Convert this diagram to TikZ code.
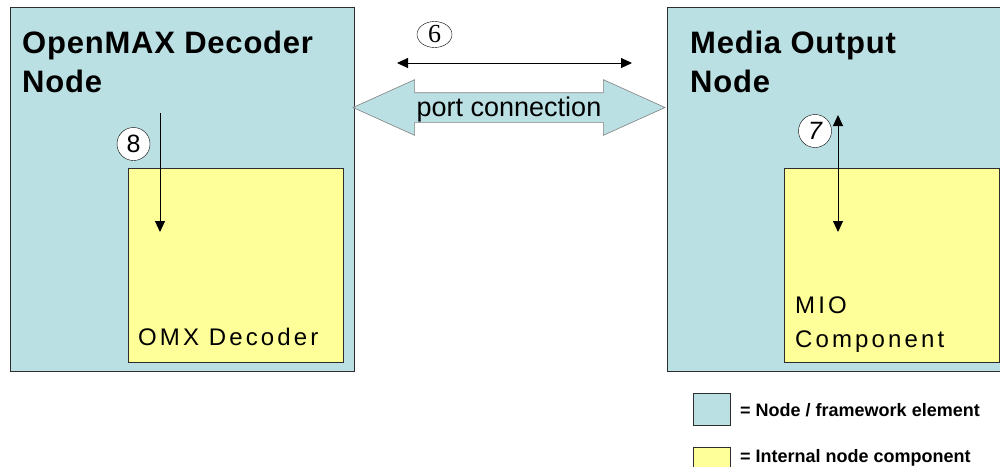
\documentclass[tikz,border=0pt]{standalone}
\usepackage{fontspec}
\setmainfont{Liberation Sans}
\newfontfamily\numfont{Liberation Serif}
\usetikzlibrary{arrows.meta,positioning,shapes.arrows,shapes.geometric}
\definecolor{nodeblue}{RGB}{187,224,227}
\definecolor{compyellow}{RGB}{255,255,153}
\definecolor{edgegray}{RGB}{45,45,45}

\begin{document}
\begin{tikzpicture}[
  x=1pt, y=-1pt,
  nodebox/.style={rectangle, draw=edgegray, line width=1pt, fill=nodeblue, inner sep=0pt},
  compbox/.style={rectangle, draw=edgegray, line width=1pt, fill=compyellow, inner sep=0pt},
  title/.style={anchor=base west, inner sep=0pt, align=left, font=\fontsize{31}{39}\selectfont\bfseries\addfontfeature{LetterSpace=2.5}},
  label/.style={anchor=base west, inner sep=0pt, align=left, font=\fontsize{24}{34}\selectfont\addfontfeature{LetterSpace=13}},
  num/.style={circle, draw, fill=white, minimum size=33pt, inner sep=0pt, font=\fontsize{25}{25}\selectfont},
  arrow/.style={-{Triangle[length=11pt,width=10pt]}, line width=1pt},
  darrow/.style={{Triangle[length=11pt,width=10pt]}-{Triangle[length=11pt,width=10pt]}, line width=1pt},
  legend/.style={anchor=base west, inner sep=0pt, font=\fontsize{18}{18}\selectfont\bfseries},
]
  \clip (0,0) rectangle (1000,466);

  % framework nodes
  \node[nodebox, minimum width=344pt, minimum height=364pt] (dec) at (182,189) {};
  \node[nodebox, minimum width=344pt, minimum height=364pt] (out) at (839,189) {};
  \node[compbox, minimum width=215pt, minimum height=194pt] (omx) at (235.5,265) {};
  \node[compbox, minimum width=215pt, minimum height=194pt] (mio) at (891.5,265) {};

  \node[title] (dectitle) at (22,92) {OpenMAX Decoder\\Node};
  \node[title] (outtitle) at (690,92) {Media Output\\Node};
  \node[label] (omxlabel) at (138,345) {OMX Decoder};
  \node[label] (miolabel) at (795,347) {MIO\\Component};

  % port connection
  \node[double arrow, draw=gray, fill=nodeblue, line width=0.6pt,
        minimum height=312pt, minimum width=55pt,
        double arrow head extend=13pt, double arrow tip angle=48.6,
        text height=22pt, text depth=5pt, inner ysep=1pt, inner xsep=0pt,
        font=\fontsize{27}{27}\selectfont] (port) at (509,107.5) {port connection};

  % numbered steps
  \node[ellipse, draw, fill=white, minimum width=35pt, minimum height=26pt, inner sep=0pt,
        font=\numfont\fontsize{26}{26}\selectfont] (n6) at (434.5,34.5) {6};
  \node[num, font=\fontsize{25}{25}\selectfont\itshape] (n7) at (815,131) {7};
  \node[num] (n8) at (133.5,144) {8};

  \coordinate (a6) at (397,63);
  \coordinate (b6) at (632,63);
  \coordinate (a7) at (838,115);
  \coordinate (b7) at (838,232);
  \coordinate (a8) at (160,113);
  \coordinate (b8) at (160,232);

  \draw[darrow] (a6) -- (b6);
  \draw[darrow] (a7) -- (b7);
  \draw[arrow] (a8) -- (b8);

  % legend
  \node[nodebox, minimum width=37pt, minimum height=32pt] (keynode) at (711.5,409) {};
  \node[compbox, minimum width=37pt, minimum height=32pt] (keycomp) at (711.5,463) {};
  \node[legend] at (740,416) {= Node / framework element};
  \node[legend] at (740,462) {= Internal node component};
\end{tikzpicture}
\end{document}
